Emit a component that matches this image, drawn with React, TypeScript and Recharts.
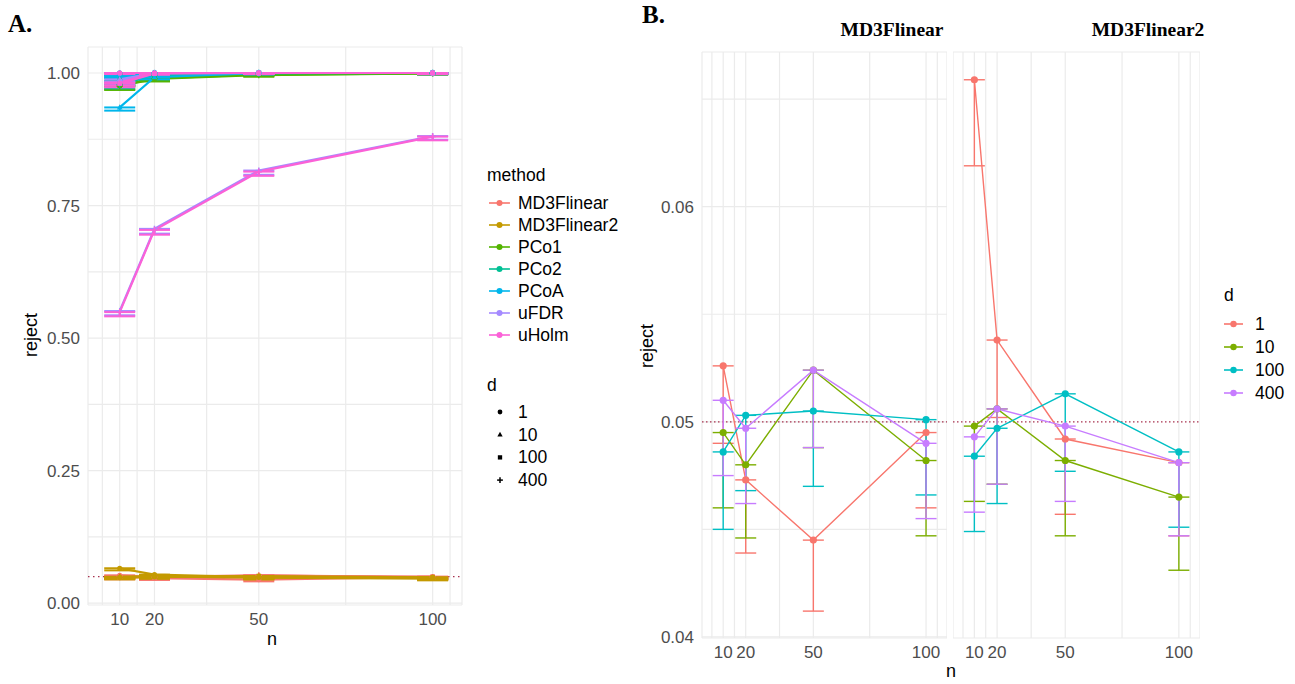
import React from 'react'
import {
  ComposedChart,
  Line,
  XAxis,
  YAxis,
  CartesianGrid,
  ReferenceLine,
  ErrorBar,
} from 'recharts'

const N_VALUES = [10, 20, 50, 100]
const D_LEVELS = ['1', '10', '100', '400']
const METHODS = ['MD3Flinear', 'MD3Flinear2', 'PCo1', 'PCo2', 'PCoA', 'uFDR', 'uHolm']
const METHOD_COLORS = ['#F8766D', '#C49A00', '#53B400', '#00C094', '#00B6EB', '#A58AFF', '#FB61D7']
const D_COLORS = ['#F8766D', '#7CAE00', '#00BFC4', '#C77CFF']
const D_SHAPES = ['circle', 'triangle', 'square', 'plus']

const X_GRID = [5, 10, 15, 20, 35, 50, 75, 100, 105]
const X_LABELS = [10, 20, 50, 100]
const A_Y_GRID = [0, 0.125, 0.25, 0.375, 0.5, 0.625, 0.75, 0.875, 1]
const A_Y_LABELS = [0, 0.25, 0.5, 0.75, 1]
const B_Y_GRID = [0.04, 0.045, 0.05, 0.055, 0.06, 0.065]
const B_Y_LABELS = [0.04, 0.05, 0.06]

// rows: d = 1, 10, 100, 400 ; columns: n = 10, 20, 50, 100
const MD3F_REJECT = [
  [0.0526, 0.0473, 0.0445, 0.0495],
  [0.0495, 0.048, 0.0524, 0.0482],
  [0.0486, 0.0503, 0.0505, 0.0501],
  [0.051, 0.0497, 0.0524, 0.049],
]
const MD3F_LOWER = [
  [0.049, 0.0439, 0.0412, 0.046],
  [0.046, 0.0446, 0.0488, 0.0447],
  [0.045, 0.0468, 0.047, 0.0466],
  [0.0475, 0.0462, 0.0488, 0.0455],
]
const MD3F2_REJECT = [
  [0.0659, 0.0538, 0.0492, 0.0481],
  [0.0498, 0.0506, 0.0482, 0.0465],
  [0.0484, 0.0497, 0.0513, 0.0486],
  [0.0493, 0.0506, 0.0498, 0.0481],
]
const MD3F2_LOWER = [
  [0.0619, 0.0502, 0.0457, 0.0447],
  [0.0463, 0.0471, 0.0447, 0.0431],
  [0.0449, 0.0462, 0.0477, 0.0451],
  [0.0458, 0.0471, 0.0463, 0.0447],
]
const PCO1_REJECT = [
  [0.998, 1, 1, 1],
  [0.982, 0.993, 0.998, 1],
  [0.976, 0.99, 0.997, 0.999],
  [0.975, 0.989, 0.996, 0.999],
]
const PCO1_LOWER = [
  [0.995, 0.998, 0.998, 0.998],
  [0.975, 0.988, 0.995, 0.998],
  [0.969, 0.985, 0.994, 0.997],
  [0.968, 0.984, 0.993, 0.997],
]
const PCO2_REJECT = [
  [1, 1, 1, 1],
  [0.99, 0.998, 1, 1],
  [0.985, 0.997, 1, 1],
  [0.978, 0.996, 0.999, 1],
]
const PCO2_LOWER = [
  [0.998, 0.998, 0.998, 0.998],
  [0.984, 0.995, 0.998, 0.998],
  [0.978, 0.994, 0.998, 0.998],
  [0.971, 0.992, 0.997, 0.998],
]
const PCOA_REJECT = [
  [1, 1, 1, 1],
  [0.935, 0.992, 1, 1],
  [0.997, 1, 1, 1],
  [0.995, 1, 1, 1],
]
const PCOA_LOWER = [
  [0.998, 0.998, 0.998, 0.998],
  [0.929, 0.988, 0.998, 0.998],
  [0.993, 0.998, 0.998, 0.998],
  [0.991, 0.998, 0.998, 0.998],
]
const UFDR_REJECT = [
  [1, 1, 1, 1],
  [0.988, 1, 1, 1],
  [0.984, 0.999, 1, 1],
  [0.551, 0.706, 0.816, 0.881],
]
const UFDR_LOWER = [
  [0.998, 0.998, 0.998, 0.998],
  [0.982, 0.998, 0.998, 0.998],
  [0.977, 0.997, 0.998, 0.998],
  [0.543, 0.697, 0.808, 0.874],
]
const UHOLM_REJECT = [
  [1, 1, 1, 1],
  [0.982, 1, 1, 1],
  [0.98, 0.999, 1, 1],
  [0.549, 0.704, 0.814, 0.88],
]
const UHOLM_LOWER = [
  [0.998, 0.998, 0.998, 0.998],
  [0.976, 0.998, 0.998, 0.998],
  [0.973, 0.997, 0.998, 0.998],
  [0.541, 0.695, 0.806, 0.873],
]

const SANS = '"Liberation Sans", Arial, Helvetica, sans-serif'
const SERIF = '"Liberation Serif", "Times New Roman", serif'
const GRID = '#EBEBEB'
const TICK = { fontSize: 17, fill: '#4D4D4D', fontFamily: SANS }
const REF = '#A8324F'

function buildSeries(values: number[][], lower: number[][]) {
  return values.map((row, i) =>
    N_VALUES.map((n, j) => ({ n, reject: row[j], err: [row[j] - lower[i][j], 0] }))
  )
}

const METHOD_SERIES = [
  buildSeries(MD3F_REJECT, MD3F_LOWER),
  buildSeries(MD3F2_REJECT, MD3F2_LOWER),
  buildSeries(PCO1_REJECT, PCO1_LOWER),
  buildSeries(PCO2_REJECT, PCO2_LOWER),
  buildSeries(PCOA_REJECT, PCOA_LOWER),
  buildSeries(UFDR_REJECT, UFDR_LOWER),
  buildSeries(UHOLM_REJECT, UHOLM_LOWER),
]

function ShapeMark({ cx, cy, shape, color, size }: any) {
  if (cx == null || cy == null) return null
  if (shape === 'triangle') {
    return (
      <polygon
        points={`${cx},${cy - size * 1.2} ${cx - size * 1.1},${cy + size * 0.75} ${cx + size * 1.1},${cy + size * 0.75}`}
        fill={color}
      />
    )
  }
  if (shape === 'square') {
    return <rect x={cx - size * 0.9} y={cy - size * 0.9} width={size * 1.8} height={size * 1.8} fill={color} />
  }
  if (shape === 'plus') {
    return (
      <g stroke={color} strokeWidth={1.5}>
        <line x1={cx - size * 1.2} x2={cx + size * 1.2} y1={cy} y2={cy} />
        <line x1={cx} x2={cx} y1={cy - size * 1.2} y2={cy + size * 1.2} />
      </g>
    )
  }
  return <circle cx={cx} cy={cy} r={size} fill={color} />
}

const xFmt = (v: number) => (X_LABELS.includes(v) ? String(v) : '')

function PanelA() {
  return (
    <ComposedChart width={470} height={684} margin={{ top: 47, right: 8, left: 0, bottom: 49 }}>
      <CartesianGrid stroke={GRID} strokeWidth={1.2} />
      <XAxis
        dataKey="n"
        type="number"
        domain={[0.88, 108.44]}
        ticks={X_GRID}
        tickFormatter={xFmt}
        interval={0}
        allowDataOverflow
        axisLine={false}
        tickLine={false}
        tick={TICK}
        height={30}
      />
      <YAxis
        type="number"
        domain={[-0.0034, 1.049]}
        ticks={A_Y_GRID}
        tickFormatter={(v: number) => (A_Y_LABELS.includes(v) ? v.toFixed(2) : '')}
        interval={0}
        allowDataOverflow
        axisLine={false}
        tickLine={false}
        tick={TICK}
        width={88}
      />
      <ReferenceLine y={0.05} stroke={REF} strokeDasharray="1.5 3.5" strokeWidth={1.3} />
      {METHOD_SERIES.map((series, m) =>
        series.map((data, d) => (
          <Line
            key={`${m}-${d}`}
            data={data}
            dataKey="reject"
            stroke={METHOD_COLORS[m]}
            strokeWidth={2.2}
            isAnimationActive={false}
            activeDot={false}
            dot={(p: any) => (
              <ShapeMark
                key={`a-${m}-${d}-${p.index}`}
                cx={p.cx}
                cy={p.cy}
                shape={D_SHAPES[d]}
                color={METHOD_COLORS[m]}
                size={2.6}
              />
            )}
          >
            <ErrorBar dataKey="err" direction="y" width={15.5} stroke={METHOD_COLORS[m]} strokeWidth={2} />
          </Line>
        ))
      )}
    </ComposedChart>
  )
}

function Facet({ series, showY, width }: any) {
  return (
    <ComposedChart width={width} height={684} margin={{ top: 52, right: 0, left: 0, bottom: 16 }}>
      <CartesianGrid stroke={GRID} strokeWidth={1.2} />
      <XAxis
        dataKey="n"
        type="number"
        domain={[0.6, 109.3]}
        ticks={X_GRID}
        tickFormatter={xFmt}
        interval={0}
        allowDataOverflow
        axisLine={false}
        tickLine={false}
        tick={TICK}
        height={30}
      />
      <YAxis
        type="number"
        domain={[0.03995, 0.06719]}
        ticks={B_Y_GRID}
        tickFormatter={(v: number) => (B_Y_LABELS.includes(v) ? v.toFixed(2) : '')}
        interval={0}
        allowDataOverflow
        axisLine={false}
        tickLine={false}
        tick={showY ? TICK : false}
        width={showY ? 82 : 0}
      />
      <ReferenceLine y={0.05} stroke={REF} strokeDasharray="1.5 2.5" strokeWidth={1.2} />
      {series.map((data: any, d: number) => (
        <Line
          key={d}
          data={data}
          dataKey="reject"
          stroke={D_COLORS[d]}
          strokeWidth={1.4}
          isAnimationActive={false}
          activeDot={false}
          dot={(p: any) => (
            <circle key={`b-${d}-${p.index}`} cx={p.cx} cy={p.cy} r={3.6} fill={D_COLORS[d]} />
          )}
        >
          <ErrorBar dataKey="err" direction="y" width={10.5} stroke={D_COLORS[d]} strokeWidth={1.4} />
        </Line>
      ))}
    </ComposedChart>
  )
}

const abs = (left: number, top: number, extra: any = {}) => ({ position: 'absolute' as const, left, top, ...extra })

export default function App() {
  const legendText = { fontFamily: SANS, fontSize: 17.5, color: '#000', lineHeight: '20px' }
  return (
    <div style={{ position: 'absolute', left: 0, top: 0, width: 1295, height: 684, background: '#fff', overflow: 'hidden' }}>
      <div style={abs(0, 0)}>
        <PanelA />
      </div>
      <div style={abs(620, 0)}>
        <Facet series={METHOD_SERIES[0]} showY width={327} />
      </div>
      <div style={abs(953, 0)}>
        <Facet series={METHOD_SERIES[1]} showY={false} width={247} />
      </div>

      <div style={abs(8, 10, { fontFamily: SERIF, fontWeight: 'bold', fontSize: 25, lineHeight: '28px' })}>A.</div>
      <div style={abs(642, 1, { fontFamily: SERIF, fontWeight: 'bold', fontSize: 25, lineHeight: '28px' })}>B.</div>
      <div style={abs(892, 19, { transform: 'translateX(-50%)', fontFamily: SERIF, fontWeight: 'bold', fontSize: 19.5, lineHeight: '22px', whiteSpace: 'nowrap' })}>
        MD3Flinear
      </div>
      <div style={abs(1148, 19, { transform: 'translateX(-50%)', fontFamily: SERIF, fontWeight: 'bold', fontSize: 19.5, lineHeight: '22px', whiteSpace: 'nowrap' })}>
        MD3Flinear2
      </div>

      <div style={abs(272, 629, { transform: 'translateX(-50%)', ...legendText, fontSize: 18 })}>n</div>
      <div style={abs(951, 661, { transform: 'translateX(-50%)', ...legendText, fontSize: 18 })}>n</div>
      <div style={abs(31, 335, { transform: 'translate(-50%, -50%) rotate(-90deg)', ...legendText, fontSize: 18 })}>reject</div>
      <div style={abs(647, 346, { transform: 'translate(-50%, -50%) rotate(-90deg)', ...legendText, fontSize: 18 })}>reject</div>

      {/* legend A: method */}
      <div style={abs(487, 165, legendText)}>method</div>
      <svg style={abs(485, 190)} width={30} height={160}>
        {METHODS.map((m, i) => (
          <g key={m}>
            <line x1={4} x2={25} y1={13 + i * 22} y2={13 + i * 22} stroke={METHOD_COLORS[i]} strokeWidth={1.6} />
            <circle cx={14.5} cy={13 + i * 22} r={3} fill={METHOD_COLORS[i]} />
          </g>
        ))}
      </svg>
      {METHODS.map((m, i) => (
        <div key={m} style={abs(518, 193 + i * 22, legendText)}>{m}</div>
      ))}

      {/* legend A: d shapes */}
      <div style={abs(487, 375, legendText)}>d</div>
      <svg style={abs(485, 400)} width={30} height={90}>
        {D_LEVELS.map((d, i) => (
          <ShapeMark key={d} cx={15} cy={12 + i * 22.7} shape={D_SHAPES[i]} color="#000" size={2.4} />
        ))}
      </svg>
      {D_LEVELS.map((d, i) => (
        <div key={d} style={abs(518, 402 + i * 22.7, legendText)}>{d}</div>
      ))}

      {/* legend B: d colours */}
      <div style={abs(1224, 285, legendText)}>d</div>
      <svg style={abs(1220, 310)} width={30} height={95}>
        {D_LEVELS.map((d, i) => (
          <g key={d}>
            <line x1={4} x2={23} y1={14 + i * 23} y2={14 + i * 23} stroke={D_COLORS[i]} strokeWidth={1.6} />
            <circle cx={13.5} cy={14 + i * 23} r={3.2} fill={D_COLORS[i]} />
          </g>
        ))}
      </svg>
      {D_LEVELS.map((d, i) => (
        <div key={d} style={abs(1255, 314 + i * 23, legendText)}>{d}</div>
      ))}
    </div>
  )
}
